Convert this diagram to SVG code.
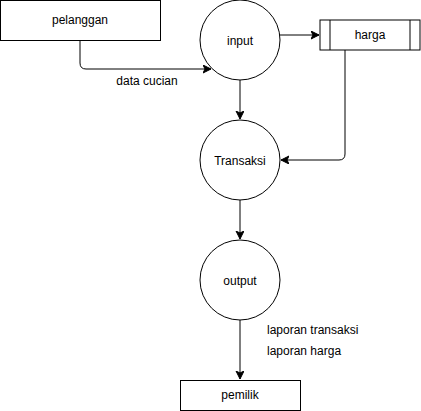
<svg xmlns="http://www.w3.org/2000/svg" width="421" height="411" viewBox="0 0 421 411">
<defs>
<marker id="arr" markerWidth="10" markerHeight="10" refX="8" refY="4" orient="auto" markerUnits="userSpaceOnUse">
<path d="M0,0 L8,4 L0,8 L2,4 Z" fill="#000" stroke="#000" stroke-width="1"/>
</marker>
</defs>
<style>
.shape{fill:#fff;stroke:#000;stroke-width:1}
.edge{fill:none;stroke:#000;stroke-width:1}
text{font-family:"Liberation Sans",Arial,sans-serif;font-size:12px;fill:#000}
.c{text-anchor:middle;dominant-baseline:central}
</style>
<rect width="421" height="411" fill="#fff"/>
<g id="connectors">
<path class="edge" d="M80,40 V63 Q80,69 86,69 H211" marker-end="url(#arr)"/>
<path class="edge" d="M280,35 H319" marker-end="url(#arr)"/>
<path class="edge" d="M345,50 V154 Q345,160 339,160 H281" marker-end="url(#arr)"/>
<path class="edge" d="M240,80 V119" marker-end="url(#arr)"/>
<path class="edge" d="M240,200 V239" marker-end="url(#arr)"/>
<path class="edge" d="M240,320 V379" marker-end="url(#arr)"/>
<text class="c" x="147" y="81">data cucian</text>
<text x="267" y="334">laporan transaksi</text>
<text x="267" y="355">laporan harga</text>
</g>
<g id="pelanggan">
<rect class="shape" x="0.5" y="0.5" width="160" height="40"/>
<text class="c" x="80" y="20">pelanggan</text>
</g>
<g id="input">
<circle class="shape" cx="240" cy="40" r="40"/>
<text class="c" x="240" y="41">input</text>
</g>
<g id="harga">
<rect class="shape" x="320" y="20" width="100" height="30"/>
<line class="edge" x1="330" y1="20" x2="330" y2="50"/>
<line class="edge" x1="410" y1="20" x2="410" y2="50"/>
<text class="c" x="370" y="35">harga</text>
</g>
<g id="transaksi">
<circle class="shape" cx="240" cy="160" r="40"/>
<text class="c" x="240" y="161">Transaksi</text>
</g>
<g id="output">
<circle class="shape" cx="240" cy="280" r="40"/>
<text class="c" x="240" y="281">output</text>
</g>
<g id="pemilik">
<rect class="shape" x="180.5" y="380.5" width="120" height="30"/>
<text class="c" x="240" y="395">pemilik</text>
</g>
</svg>
